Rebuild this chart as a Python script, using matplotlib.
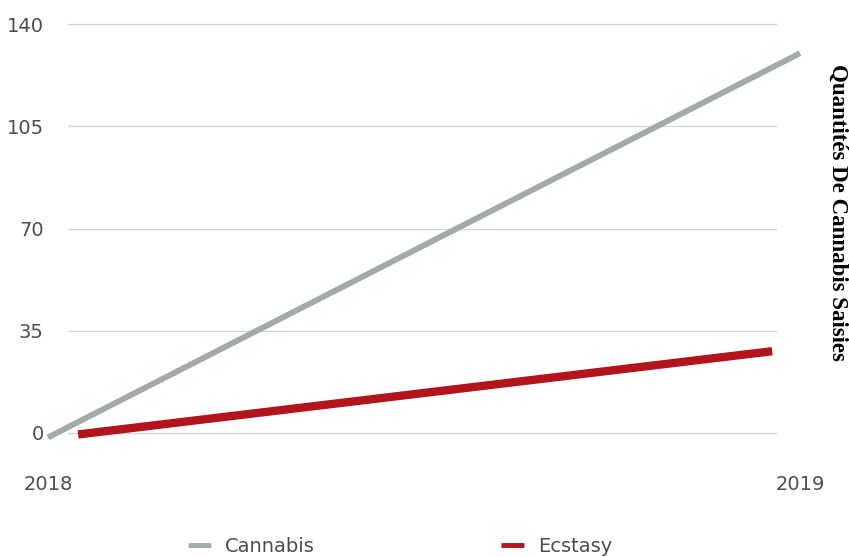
import matplotlib
matplotlib.use("Agg")
import matplotlib.pyplot as plt

# Data
years_labels = ["2018", "2019"]
cannabis_years = [2018.0, 2019.0]
cannabis_values = [-1.5, 130]
ecstasy_years = [2018.04, 2018.963]
ecstasy_values = [-0.5, 28]
y_ticks = [0, 35, 70, 105, 140]
series_names = ["Cannabis", "Ecstasy"]
right_title = "Quantités De Cannabis Saisies"

W, H = 849, 557
fig = plt.figure(figsize=(W / 100, H / 100), dpi=100)
ax = fig.add_axes([48 / W, (H - 433) / H, 752 / W, 409 / H])

ax.set_xlim(2018, 2019)
ax.set_ylim(0, 140)

for yv in y_ticks:
    ax.axhline(yv, xmin=0.0266, xmax=0.968, color="#d2d2d2", lw=0.9, zorder=1, clip_on=False)

ax.plot(cannabis_years, cannabis_values, color="#a2aba8", lw=4.2,
        solid_capstyle="butt", label=series_names[0], zorder=3, clip_on=False)
ax.plot(ecstasy_years, ecstasy_values, color="#b3141c", lw=6.0,
        solid_capstyle="butt", label=series_names[1], zorder=4, clip_on=False)

for s in ax.spines.values():
    s.set_visible(False)

ax.set_yticks(y_ticks)
ax.set_yticklabels([str(v) for v in y_ticks])
ax.set_xticks(cannabis_years)
ax.set_xticklabels(years_labels)
ax.tick_params(axis="y", length=0, pad=3, labelsize=14, labelcolor="#4d4d4d")
ax.tick_params(axis="x", length=0, pad=30, labelsize=14, labelcolor="#4d4d4d")
for lbl in ax.get_xticklabels() + ax.get_yticklabels():
    lbl.set_fontfamily("DejaVu Sans")

leg = fig.legend(loc="center", bbox_to_anchor=(400 / W, (H - 546) / H), ncol=2,
                 frameon=False, fontsize=14, handlelength=1.2, handletextpad=0.7,
                 columnspacing=9.6, prop={"family": "DejaVu Sans", "size": 14})
for t in leg.get_texts():
    t.set_color("#4d4d4d")
for h in leg.get_lines():
    h.set_linewidth(3.5)

fig.text(838 / W, (H - 212) / H, right_title, rotation=270, ha="center", va="center",
         fontsize=16.5, fontweight="bold", family="Liberation Serif", color="black")

fig.savefig("out.png", dpi=100, facecolor="white")
